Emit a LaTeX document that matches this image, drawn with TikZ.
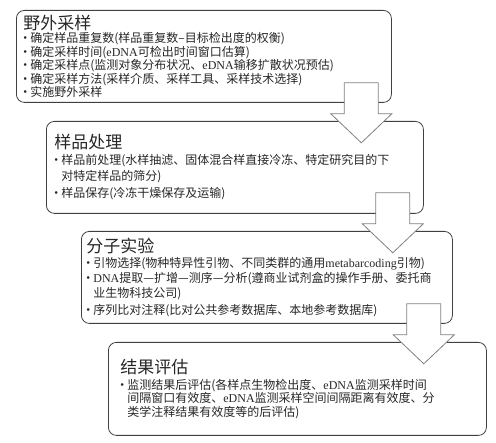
\documentclass[tikz,border=0pt]{standalone}
\usepackage{fontspec}
\setmainfont{Noto Sans CJK SC}
\newfontfamily\latin{Liberation Serif}
\usepackage{xcolor}
\usepackage{tikz}
\usetikzlibrary{positioning, calc}

\newcommand{\bul}{\makebox[7pt][l]{\raisebox{3.2pt}{\fontsize{6}{6}\selectfont$\bullet$}}}
\newcommand{\en}[1]{{\latin #1}}
\newcommand{\ttl}[1]{{\fontsize{17}{17}\selectfont #1}}

\begin{document}
\begin{tikzpicture}[
        x=1pt, y=1pt,
        box/.style={draw=black!75, line width=0.8pt, rounded corners=8pt, anchor=north west,
            align=left, inner ysep=0pt, text=black!85},
        bigarrow/.style={draw=black!50, fill=white, line width=0.8pt, line join=miter},
        downarrow/.pic={
            \draw[bigarrow] (-17,0) -- (-17,-31) -- (-30.5,-31) -- (0,-60)
                -- (30.5,-31) -- (17,-31) -- (17,0) -- cycle;
        }
    ]
    \useasboundingbox (0,0) rectangle (496,-443);

    \node (field) [box, minimum width=375pt, minimum height=92pt, inner xsep=7pt, text width=361pt,
        font=\fontsize{12}{13.5}\selectfont] at (16,-10)
        {\ttl{野外采样}\\
         \bul 确定样品重复数(样品重复数–目标检出度的权衡)\\
         \bul 确定采样时间(\en{eDNA}可检出时间窗口估算)\\
         \bul 确定采样点(监测对象分布状况、\en{eDNA}输移扩散状况预估)\\
         \bul 确定采样方法(采样介质、采样工具、采样技术选择)\\
         \bul 实施野外采样};
    \node (sample) [box, minimum width=377pt, minimum height=92pt, inner xsep=8pt, text width=361pt,
        font=\fontsize{12}{16}\selectfont] at (46,-121)
        {\ttl{样品处理}\\
         \bul 样品前处理(水样抽滤、固体混合样直接冷冻、特定研究目的下\\
         \hspace*{7pt}对特定样品的筛分)\\[1pt]
         \bul 样品保存(冷冻干燥保存及运输)};
    \node (molecular) [box, minimum width=371pt, minimum height=92pt, inner xsep=5pt, text width=361pt,
        font=\fontsize{12}{15}\selectfont] at (81,-231)
        {\ttl{分子实验}\\
         \bul 引物选择(物种特异性引物、不同类群的通用\en{metabarcoding}引物)\\
         \bul \en{DNA}提取—扩增—测序—分析(遵商业试剂盒的操作手册、委托商\\
         \hspace*{7pt}业生物科技公司)\\[2pt]
         \bul 序列比对注释(比对公共参考数据库、本地参考数据库)};
    \node (evaluation) [box, minimum width=378pt, minimum height=93pt, inner xsep=12pt, text width=354pt,
        font=\fontsize{12}{13.5}\selectfont] at (108,-342)
        {\ttl{结果评估}\\[2.5pt]
         \bul 监测结果后评估(各样点生物检出度、\en{eDNA}监测采样时间\\
         \hspace*{7pt}间隔窗口有效度、\en{eDNA}监测采样空间间隔距离有效度、分\\
         \hspace*{7pt}类学注释结果有效度等的后评估)};

    % block arrows sit on top of the boxes
    \pic (down1) at ($(field.south east)+(-30.5,20)$) {downarrow};
    \pic (down2) at ($(sample.south east)+(-31,21)$) {downarrow};
    \pic (down3) at ($(molecular.south east)+(-29,20)$) {downarrow};

\end{tikzpicture}
\end{document}
